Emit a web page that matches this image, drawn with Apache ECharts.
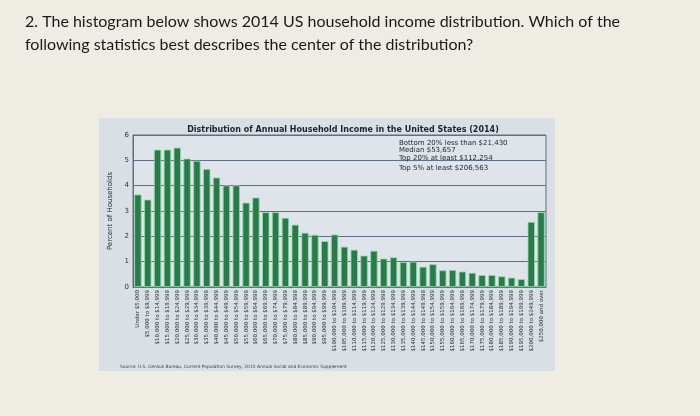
<!DOCTYPE html>
<html>
<head>
<meta charset="utf-8">
<script src="https://cdn.jsdelivr.net/npm/echarts@6/dist/echarts.min.js"></script>
<style>
html,body{margin:0;padding:0;background:#eeece3;}
#c{width:700px;height:416px;}
</style>
</head>
<body>
<div id="c"></div>
<script>
const questionLines = [
  '2. The histogram below shows 2014 US household income distribution. Which of the',
  'following statistics best describes the center of the distribution?'
];
const chartTitle = 'Distribution of Annual Household Income in the United States (2014)';
const noteLines = [
  'Bottom 20% less than $21,430',
  'Median $53,657',
  'Top 20% at least $112,254'
];
const noteLine2 = 'Top 5% at least $206,563';
const sourceText = 'Source: U.S. Census Bureau, Current Population Survey, 2015 Annual Social and Economic Supplement';
const yAxisName = 'Percent of Households';

const categories = [
  'Under $5,000', '$5,000 to $9,999', '$10,000 to $14,999', '$15,000 to $19,999',
  '$20,000 to $24,999', '$25,000 to $29,999', '$30,000 to $34,999', '$35,000 to $39,999',
  '$40,000 to $44,999', '$45,000 to $49,999', '$50,000 to $54,999', '$55,000 to $59,999',
  '$60,000 to $64,999', '$65,000 to $69,999', '$70,000 to $74,999', '$75,000 to $79,999',
  '$80,000 to $84,999', '$85,000 to $89,999', '$90,000 to $94,999', '$95,000 to $99,999',
  '$100,000 to $104,999', '$105,000 to $109,999', '$110,000 to $114,999', '$115,000 to $119,999',
  '$120,000 to $124,999', '$125,000 to $129,999', '$130,000 to $134,999', '$135,000 to $139,999',
  '$140,000 to $144,999', '$145,000 to $149,999', '$150,000 to $154,999', '$155,000 to $159,999',
  '$160,000 to $164,999', '$165,000 to $169,999', '$170,000 to $174,999', '$175,000 to $179,999',
  '$180,000 to $184,999', '$185,000 to $189,999', '$190,000 to $194,999', '$195,000 to $199,999',
  '$200,000 to $249,999', '$250,000 and over'
];
const percents = [
  3.65, 3.45, 5.42, 5.42, 5.50, 5.07, 4.98, 4.66, 4.32, 4.01,
  4.01, 3.33, 3.53, 2.95, 2.95, 2.73, 2.46, 2.14, 2.06, 1.81,
  2.07, 1.59, 1.47, 1.24, 1.43, 1.12, 1.17, 0.98, 1.00, 0.80,
  0.90, 0.66, 0.67, 0.61, 0.56, 0.47, 0.47, 0.42, 0.37, 0.31,
  2.57, 2.95
];
const yMin = 0, yMax = 6, yStep = 1;

const chart = echarts.init(document.getElementById('c'), null, {renderer: 'canvas'});
const dv = 'DejaVu Sans';
chart.setOption({
  backgroundColor: '#eeece3',
  animation: false,
  title: {
    text: chartTitle,
    left: 338, top: 121, textAlign: 'center',
    textStyle: {fontFamily: dv, fontSize: 8, fontWeight: 'bold', color: '#1c2230'}
  },
  graphic: [
    {type: 'rect', z: -10, shape: {x: 99, y: 118, width: 456, height: 253}, style: {fill: '#d9dfe4'}},
    {type: 'text', x: 25, y: 22, style: {text: questionLines[0], font: '16px Lato', fill: '#1a1a1a', textVerticalAlign: 'middle'}},
    {type: 'text', x: 25, y: 45, style: {text: questionLines[1], font: '16px Lato', fill: '#1a1a1a', textVerticalAlign: 'middle'}},
    {type: 'text', x: 399, y: 139, z: 10, style: {text: noteLines.join('\n'), font: '7px "DejaVu Sans"', lineHeight: 7.5, fill: '#1c2230'}},
    {type: 'text', x: 399, y: 165, z: 10, style: {text: noteLine2, font: '7px "DejaVu Sans"', fill: '#1c2230'}},
    {type: 'text', x: 120, y: 367, style: {text: sourceText, font: '4.4px "DejaVu Sans"', fill: '#3a4250', textVerticalAlign: 'middle'}}
  ],
  grid: {
    left: 133, right: 154, top: 135, bottom: 129,
    show: true, backgroundColor: '#dee4e9', borderColor: '#5f6f86', borderWidth: 1
  },
  xAxis: {
    type: 'category',
    data: categories,
    axisLine: {show: true, lineStyle: {color: '#5f6f86'}},
    axisTick: {show: false},
    axisLabel: {rotate: 90, interval: 0, margin: 3, fontFamily: dv, fontSize: 5.5, color: '#2a3040'}
  },
  yAxis: {
    type: 'value', min: yMin, max: yMax, interval: yStep,
    name: yAxisName, nameLocation: 'middle', nameGap: 17,
    nameTextStyle: {fontFamily: dv, fontSize: 7, color: '#1c2230'},
    axisLine: {show: true, lineStyle: {color: '#5f6f86'}},
    axisTick: {show: false},
    axisLabel: {fontFamily: dv, fontSize: 7, color: '#2a3040', margin: 4},
    splitLine: {show: true, lineStyle: {color: '#5f6f86', width: 1}}
  },
  series: [{
    type: 'bar',
    data: percents,
    barCategoryGap: '26%',
    itemStyle: {color: '#2c7a49', borderColor: '#8fdcaa', borderWidth: 0.8},
    z: 3
  }]
});
</script>
</body>
</html>
